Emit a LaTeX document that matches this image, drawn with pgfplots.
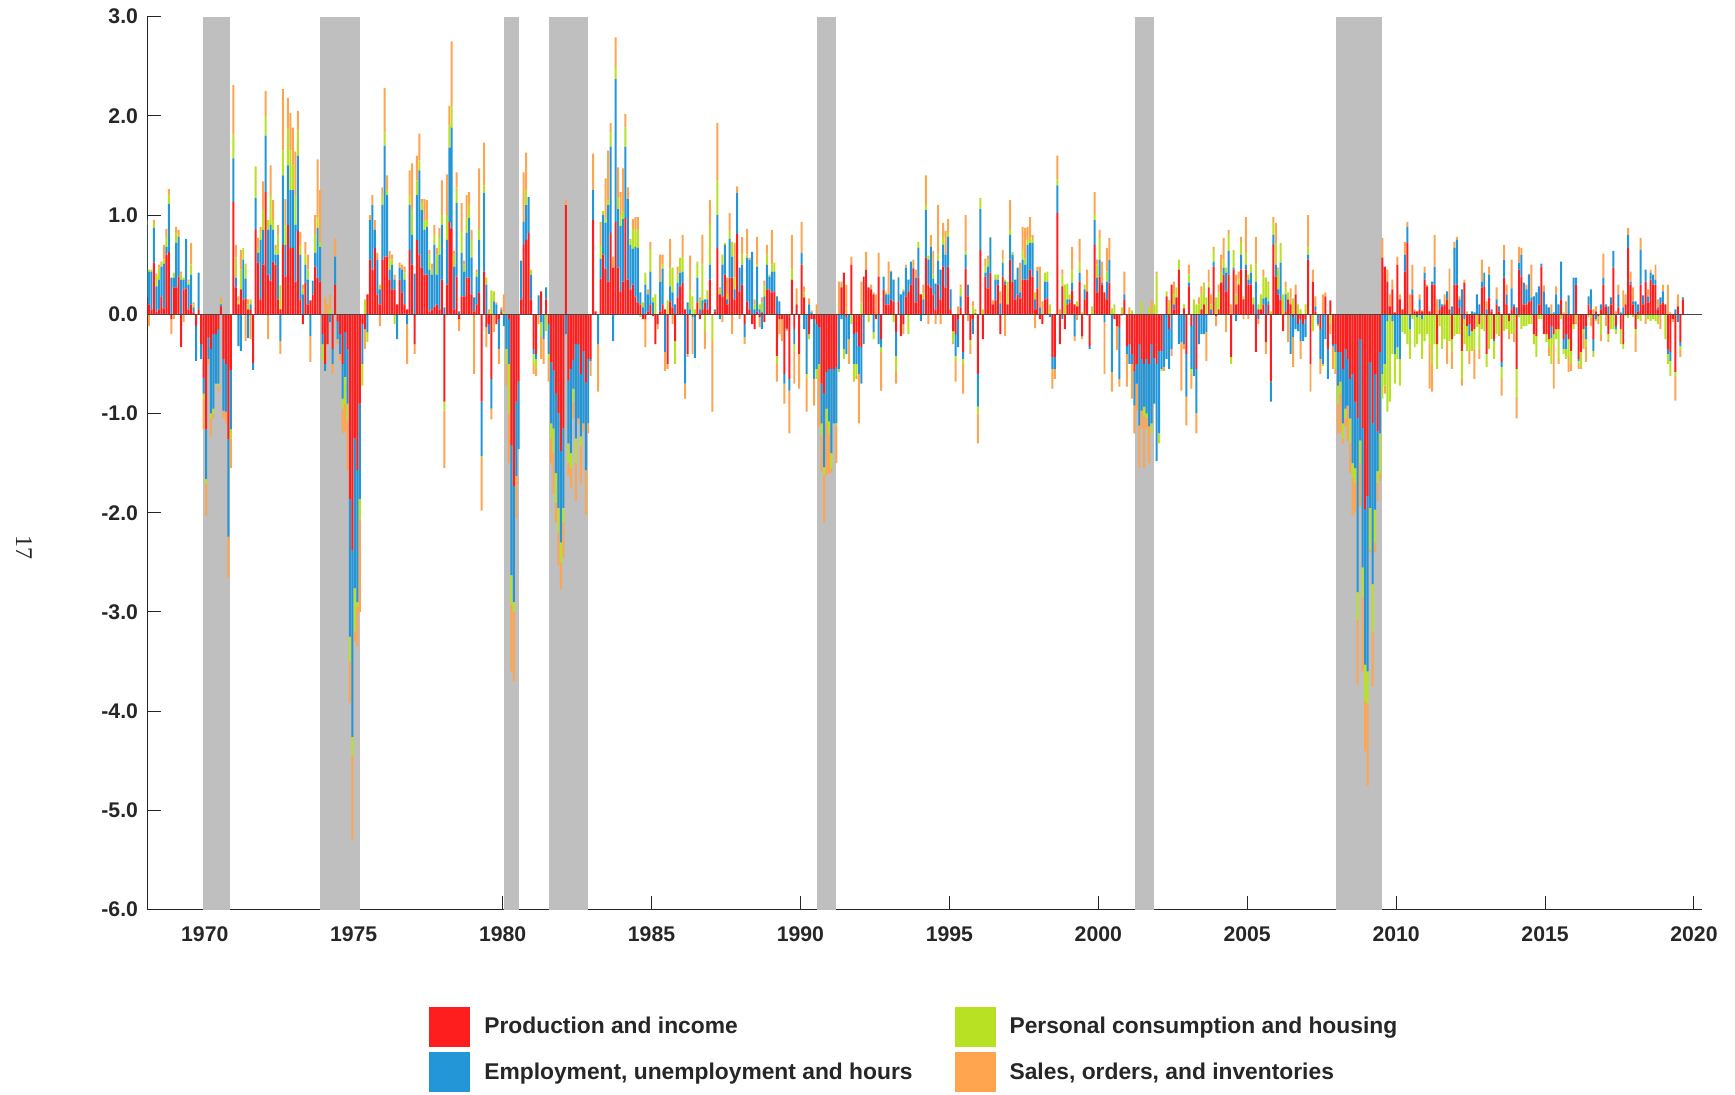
\documentclass[border=0pt]{standalone}
\usepackage{fontspec}
\setmainfont{Liberation Sans}
\newfontfamily\pagefont{Liberation Serif}
\usepackage{pgfplots}
\usepackage{pgfplotstable}
\pgfplotsset{compat=1.18}

\definecolor{cProd}{RGB}{255,30,30}
\definecolor{cEmp}{RGB}{35,150,215}
\definecolor{cCons}{RGB}{185,225,35}
\definecolor{cSales}{RGB}{255,165,80}
\definecolor{cRec}{RGB}{191,191,191}
\definecolor{cAx}{RGB}{38,38,38}

% monthly contributions, Jan 1968 - Aug 2019
% p = production and income, e = employment, c = consumption and housing, s = sales
\pgfplotstableread{
p e c s
0.17 0.73 0.05 0.00
0.10 0.33 0.02 -0.12
0.05 0.38 0.02 0.00
0.52 0.35 0.05 0.03
0.03 0.25 0.10 0.03
0.05 0.30 0.12 0.03
0.18 0.30 0.03 0.02
0.06 0.45 0.04 0.15
0.60 0.08 0.10 0.08
0.63 0.48 0.10 0.05
-0.05 0.37 0.00 -0.15
0.27 0.10 0.05 -0.05
0.27 0.45 0.10 0.06
0.38 0.40 0.00 0.07
-0.33 0.35 0.05 0.03
0.25 0.10 0.02 -0.08
0.26 0.50 0.00 0.00
0.05 0.25 0.03 0.02
0.10 0.30 0.10 0.22
0.02 0.05 0.03 0.02
-0.12 -0.35 0.00 0.00
0.05 0.37 0.00 0.00
-0.30 -0.15 0.00 0.00
-0.64 -0.16 -0.05 -0.31
-1.16 -0.50 -0.05 -0.32
-0.23 -0.22 0.00 -0.05
-0.35 -0.65 -0.05 -0.18
-0.20 -0.75 -0.05 -0.05
-0.20 -0.50 0.00 0.00
-0.15 -0.55 -0.03 -0.05
0.08 0.02 0.02 0.05
-0.45 -0.52 0.00 -0.08
-0.50 -0.48 0.00 -0.12
-1.26 -0.98 0.00 -0.42
-0.56 -0.60 -0.09 -0.30
1.13 0.44 0.24 0.50
0.27 0.10 0.20 0.13
0.10 -0.32 0.03 0.05
0.25 -0.37 0.20 0.20
0.15 0.40 0.12 0.00
0.16 0.20 0.15 -0.27
0.05 -0.24 0.05 0.05
0.05 0.05 0.05 -0.25
-0.49 -0.07 0.00 0.00
0.85 0.32 0.32 0.00
0.52 0.10 0.05 0.10
0.15 0.60 0.08 0.05
0.50 0.35 0.20 0.29
1.23 0.57 0.20 0.25
0.40 0.45 0.10 -0.25
0.34 0.56 0.30 0.30
0.53 0.32 0.10 0.20
0.50 0.10 0.05 0.05
0.15 0.45 0.20 0.10
0.05 -0.27 0.24 -0.13
0.70 0.70 0.25 0.62
0.38 0.32 0.20 0.26
0.90 0.60 0.36 0.32
0.67 0.58 0.40 0.38
0.67 0.58 0.25 0.38
0.33 0.57 0.30 0.44
0.84 0.76 0.25 0.20
0.15 0.45 0.10 0.13
-0.10 0.20 0.05 0.05
0.32 0.18 0.10 0.13
0.10 0.25 0.10 0.15
0.14 -0.22 0.00 -0.26
0.20 0.14 0.00 0.00
0.48 0.14 0.18 0.20
0.37 0.50 0.11 0.58
0.33 0.35 0.05 0.52
-0.20 -0.10 -0.17 0.00
-0.50 -0.07 0.00 0.17
-0.30 0.00 0.00 0.10
0.00 -0.08 0.05 0.15
-0.35 -0.15 0.00 -0.10
0.30 0.28 0.00 0.18
-0.07 -0.18 0.00 -0.05
-0.20 -0.20 0.00 -0.07
-0.50 -0.35 -0.10 -0.25
-0.18 -0.45 -0.27 -0.28
-0.35 -0.55 -0.17 -0.50
-1.86 -1.39 -0.25 -0.42
-2.38 -1.88 -0.19 -0.85
-1.25 -1.51 -0.44 -0.10
-1.57 -1.33 -0.05 -0.40
-0.90 -0.96 -0.21 -0.93
-0.10 -0.40 -0.22 0.00
-0.15 0.00 0.15 -0.20
0.20 -0.18 -0.10 0.00
0.55 0.40 0.00 0.05
0.45 0.65 0.00 0.10
0.67 0.18 0.00 0.10
0.20 0.35 0.00 0.07
0.10 0.15 0.05 -0.12
0.55 0.55 0.10 0.08
0.58 1.12 0.13 0.45
0.58 0.62 0.05 0.15
0.35 0.10 0.10 0.09
0.25 0.25 0.05 0.05
0.25 0.10 -0.10 0.05
0.10 -0.25 0.00 0.00
0.35 0.12 0.00 0.05
0.22 0.23 0.00 0.05
0.10 0.25 0.07 0.06
0.05 -0.10 0.00 -0.40
0.65 0.45 0.10 0.25
0.50 0.30 0.25 0.47
-0.30 0.41 0.00 -0.10
0.75 0.45 0.15 0.25
0.60 0.85 0.10 0.27
0.47 0.58 0.07 0.04
0.40 0.45 0.10 0.21
0.40 0.48 0.07 0.20
0.03 0.42 0.15 0.05
0.05 0.35 0.05 0.06
0.08 0.62 0.10 0.10
0.10 0.30 0.20 0.07
0.05 0.55 0.18 0.09
0.35 0.55 0.10 0.35
-0.88 0.07 -0.09 -0.58
0.30 0.45 0.25 0.41
0.93 0.75 0.22 0.20
0.86 1.02 0.22 0.65
0.05 0.43 0.12 0.04
0.38 0.74 0.16 0.15
-0.05 0.03 0.00 -0.12
0.18 0.44 0.21 0.29
0.18 0.25 0.07 0.04
0.37 0.45 0.16 0.22
0.37 0.60 0.13 0.13
0.20 0.37 0.18 0.10
0.03 0.14 0.00 -0.60
0.10 0.28 0.04 0.03
0.22 0.53 0.10 0.62
-0.88 -0.55 -0.02 -0.53
0.43 0.79 0.08 0.43
-0.13 0.30 0.07 -0.20
-0.10 -0.10 0.00 0.05
-0.65 -0.30 0.24 -0.11
0.00 0.13 0.10 -0.18
-0.10 0.10 0.00 0.02
-0.05 -0.30 0.00 -0.15
0.03 0.02 0.00 0.02
0.00 -0.12 0.02 0.18
0.00 -0.35 -0.15 -0.22
-0.05 -0.45 -0.50 -0.50
-1.32 -1.31 -0.30 -0.67
-1.73 -1.17 -0.10 -0.70
-0.88 -0.75 0.00 -0.42
-0.68 -0.68 0.00 0.00
0.15 0.39 0.00 0.00
0.70 0.23 0.00 0.50
0.75 0.35 0.15 0.38
0.82 0.36 0.00 0.00
0.15 0.25 0.05 0.00
-0.35 -0.05 -0.10 -0.10
-0.40 -0.05 -0.10 -0.07
0.00 0.19 0.00 -0.10
0.23 -0.08 -0.14 -0.23
0.00 -0.25 0.00 -0.25
0.15 0.12 -0.17 0.00
-0.10 -0.30 -0.05 -0.23
-0.48 -0.62 -0.15 -0.25
-0.56 -0.59 -0.25 -0.40
-0.80 -0.80 -0.30 -0.20
-1.00 -0.95 -0.25 -0.33
-1.38 -0.92 -0.20 -0.27
-1.15 -0.80 -0.15 -0.35
1.10 -0.20 0.00 0.05
-0.67 -0.63 -0.20 -0.13
-0.55 -0.85 -0.15 -0.20
-0.46 -0.29 -0.13 -0.17
-0.30 -0.95 -0.25 -0.38
-0.30 -0.75 0.00 -0.05
-0.60 -0.63 -0.10 -0.37
-0.37 -0.73 0.00 -0.08
-0.69 -0.88 0.00 -0.45
-0.45 -0.65 0.00 -0.10
-0.45 -0.02 0.00 -0.15
0.95 0.30 0.00 0.37
0.03 0.00 0.00 0.00
0.00 -0.30 0.00 -0.48
0.36 0.20 0.14 0.23
0.60 0.40 0.04 0.00
0.46 0.46 0.05 0.40
0.33 0.77 0.05 0.50
0.82 0.87 0.14 0.10
0.47 -0.27 0.00 0.11
0.93 1.44 0.12 0.30
0.47 0.59 0.12 0.30
0.23 0.66 0.11 0.23
0.33 0.63 0.08 0.43
0.97 0.72 0.19 0.14
0.35 0.81 0.00 0.12
0.25 0.45 0.05 0.01
0.30 0.36 0.20 0.10
0.18 0.50 0.18 0.12
0.12 0.55 0.18 0.13
0.10 0.12 -0.03 0.00
-0.05 0.07 0.05 0.00
-0.05 0.30 0.12 -0.28
0.03 0.17 0.00 0.05
0.10 0.33 0.23 0.07
-0.02 0.12 0.05 0.00
-0.30 0.00 0.20 0.00
-0.10 0.00 0.00 -0.05
0.03 0.30 0.00 0.27
0.10 0.36 0.04 0.10
0.05 -0.38 0.00 -0.19
-0.50 0.00 0.14 -0.05
0.13 0.15 0.18 0.30
0.07 0.15 0.25 -0.10
-0.27 0.10 -0.23 0.00
0.17 0.15 0.08 0.08
0.28 0.14 0.15 0.00
0.32 0.11 0.14 0.23
0.05 -0.70 0.00 -0.15
-0.40 0.12 0.00 -0.03
0.00 0.05 0.19 0.35
0.00 -0.03 0.18 -0.37
-0.02 -0.42 0.05 0.00
0.12 0.25 0.15 0.01
-0.05 0.05 0.10 0.02
0.05 0.09 0.36 0.30
0.12 0.03 -0.17 -0.18
0.05 0.10 0.09 0.00
0.35 0.15 0.40 0.25
0.00 0.00 -0.27 -0.71
0.03 0.02 0.00 0.00
0.67 0.33 0.35 0.58
0.20 -0.05 0.05 0.02
0.18 0.32 0.10 -0.08
0.40 0.30 0.02 0.00
0.10 0.05 0.05 0.17
0.37 0.39 0.09 0.17
0.37 0.21 0.15 -0.20
0.15 0.10 0.12 0.35
0.81 0.41 0.00 0.07
0.23 0.24 0.00 -0.05
0.30 0.20 0.10 0.18
-0.10 -0.13 0.00 -0.07
0.13 0.44 0.03 0.26
0.05 0.50 0.00 0.02
-0.10 0.63 0.00 0.00
-0.15 0.05 0.05 0.05
0.03 0.45 0.02 0.28
-0.03 0.05 0.05 -0.10
0.02 -0.15 0.10 0.05
-0.08 0.18 0.10 0.06
0.25 0.25 0.10 0.10
0.25 0.13 0.02 0.00
0.22 0.21 0.07 0.35
0.23 0.20 0.09 0.00
-0.42 0.18 -0.08 -0.18
-0.05 0.13 0.00 -0.15
-0.05 0.00 0.00 -0.22
-0.60 -0.10 0.00 -0.20
-0.14 -0.01 0.00 -0.02
-0.65 -0.12 0.00 -0.43
0.35 0.00 0.10 0.35
-0.15 -0.15 -0.08 -0.32
0.10 0.00 0.00 0.16
-0.40 0.00 0.00 -0.35
0.50 0.12 0.00 0.31
0.17 -0.15 0.05 0.06
0.00 -0.60 -0.05 -0.33
-0.20 0.10 -0.05 0.06
-0.05 0.02 0.00 0.02
-0.05 -0.60 0.00 -0.27
-0.10 -0.45 -0.10 0.10
-0.13 -0.37 -0.05 -0.58
-0.70 -0.40 -0.12 -0.36
-0.80 -0.74 -0.08 -0.48
-0.58 -0.37 -0.15 -0.52
-0.55 -0.53 -0.12 -0.40
-0.55 -0.85 -0.15 -0.05
-0.55 -0.55 0.00 0.00
-0.53 -0.57 -0.02 -0.38
0.00 -0.55 -0.03 0.33
0.27 -0.05 0.00 0.06
0.42 -0.35 -0.10 0.00
-0.03 -0.37 0.00 0.30
0.00 -0.25 0.00 -0.25
0.50 0.00 -0.10 0.08
-0.20 -0.30 -0.18 0.00
-0.18 -0.32 -0.12 -0.03
-0.32 -0.28 0.00 -0.50
-0.33 -0.37 0.12 0.21
0.38 -0.30 0.00 0.00
0.45 0.00 0.00 0.18
0.27 0.00 -0.08 0.00
0.25 0.00 0.00 0.05
0.20 -0.18 -0.07 0.02
-0.05 0.00 0.00 0.20
0.38 -0.30 0.00 0.24
-0.25 -0.08 -0.05 -0.39
0.25 0.13 0.00 0.00
0.10 0.10 0.02 0.00
0.10 0.10 0.00 0.33
0.15 0.28 0.00 0.01
0.13 0.22 -0.08 0.00
-0.18 -0.24 -0.15 -0.13
0.13 0.24 0.01 0.00
-0.22 0.20 0.00 0.00
-0.10 0.23 0.02 -0.10
0.18 0.29 0.00 0.03
0.23 0.12 -0.20 0.00
0.30 0.23 0.00 0.00
0.46 0.01 0.00 0.08
0.12 0.25 0.00 0.08
0.37 0.30 0.06 0.00
0.20 -0.07 0.00 0.00
0.00 0.15 0.07 0.08
0.57 0.48 0.05 0.30
0.30 0.25 0.04 -0.10
0.27 0.41 0.00 0.12
0.20 0.16 0.04 0.24
0.05 0.26 0.00 -0.10
0.30 0.24 0.06 0.50
0.15 0.30 0.00 -0.10
0.48 0.22 0.08 0.14
0.27 0.33 0.00 0.24
0.48 0.30 0.05 0.13
0.05 0.20 0.00 0.00
-0.17 0.00 -0.11 -0.02
-0.20 -0.22 -0.05 -0.21
-0.05 -0.28 0.00 0.08
0.07 0.11 0.09 0.03
-0.38 -0.07 -0.05 -0.30
0.46 0.14 0.04 0.36
0.18 0.12 0.00 -0.07
-0.26 0.00 -0.04 -0.10
-0.05 -0.15 0.08 0.05
0.01 0.00 0.02 0.02
-0.60 -0.33 -0.07 -0.30
0.65 0.41 0.11 0.00
-0.25 0.00 0.05 0.00
0.38 0.04 0.06 0.08
0.26 0.22 0.07 0.04
0.42 0.35 0.01 0.00
0.10 0.00 0.00 0.04
0.14 0.21 0.05 0.00
0.30 0.05 0.05 0.00
-0.20 0.11 0.00 0.12
0.38 0.14 0.03 0.10
0.30 0.03 0.02 -0.22
0.10 0.00 0.23 0.00
0.55 0.25 0.05 0.30
0.33 0.27 0.03 0.00
0.15 0.20 0.00 0.00
0.20 0.27 0.00 0.00
0.16 0.06 0.00 0.30
0.35 0.20 0.10 0.23
0.35 0.15 0.06 0.31
0.35 0.35 0.05 0.13
0.45 0.27 0.06 0.20
0.38 0.34 0.03 0.05
0.05 0.10 0.07 -0.14
0.26 0.18 0.00 0.04
-0.05 0.07 0.00 0.41
-0.10 0.00 0.00 0.13
0.15 0.18 0.09 0.00
0.16 0.17 0.10 0.00
0.00 -0.03 0.10 0.00
-0.43 -0.12 0.00 -0.20
-0.43 -0.12 0.00 -0.10
1.02 0.28 0.06 0.24
-0.30 0.00 0.00 0.05
0.28 -0.05 0.12 0.05
-0.15 0.00 0.30 0.00
0.10 0.05 0.16 0.00
0.12 0.03 0.05 0.00
0.24 0.08 0.12 0.24
0.10 -0.22 0.00 -0.05
0.08 0.00 0.05 -0.06
0.33 0.09 0.10 0.24
-0.22 0.00 0.02 -0.03
0.15 0.10 0.05 0.00
0.23 -0.01 0.00 0.22
-0.32 -0.03 0.00 0.00
0.00 0.00 0.08 0.00
0.70 0.25 0.05 0.23
0.22 0.15 0.13 0.05
0.38 0.17 0.22 0.08
0.30 0.02 0.00 0.21
0.22 -0.08 0.00 -0.52
0.15 0.18 0.10 0.24
0.32 0.23 0.00 0.22
0.00 -0.58 0.06 -0.20
-0.05 0.00 0.10 0.00
-0.12 0.00 0.00 -0.24
-0.13 -0.52 0.00 -0.08
-0.01 0.00 0.07 0.00
0.15 0.05 0.00 0.23
-0.32 -0.08 0.00 -0.33
-0.30 -0.20 0.00 0.07
-0.40 -0.10 0.04 -0.35
-0.57 -0.35 0.00 -0.28
-0.50 -0.20 0.00 -0.27
-0.30 -0.82 0.00 -0.43
-0.45 -0.52 0.13 -0.18
-0.50 -0.43 -0.10 -0.52
-0.45 -0.55 -0.05 -0.10
-0.50 -0.63 0.07 -0.37
-0.30 -0.80 -0.10 0.15
-0.44 -0.46 0.10 0.00
-0.50 -0.98 0.40 0.03
-0.37 -0.83 -0.10 0.00
-0.37 -0.18 -0.02 0.00
0.00 -0.53 0.00 -0.04
0.18 -0.45 0.05 0.00
-0.15 -0.40 0.12 0.02
0.30 -0.35 0.00 -0.07
0.05 0.05 0.10 0.13
0.17 0.00 0.10 0.00
0.45 -0.30 0.10 0.00
0.00 -0.28 0.00 -0.49
0.06 -0.30 0.04 -0.05
-0.40 -0.43 0.00 -0.29
0.28 0.04 0.08 0.10
-0.12 -0.43 -0.05 -0.15
0.00 -0.62 0.15 0.00
-0.55 -0.45 0.10 -0.20
0.00 -0.30 0.10 0.07
0.05 -0.20 0.15 0.08
0.10 -0.20 0.20 0.02
0.00 -0.18 0.17 -0.29
0.27 0.00 0.05 0.13
0.00 0.05 0.05 0.10
0.48 0.05 0.12 0.03
-0.02 0.00 0.17 -0.10
0.05 0.00 0.17 0.08
0.32 0.00 0.10 0.18
0.40 0.07 0.08 0.22
0.23 0.19 0.05 -0.18
0.40 0.24 0.16 0.05
-0.43 0.00 -0.07 0.10
0.45 0.02 0.18 0.00
0.10 -0.07 0.10 0.20
0.30 0.00 0.05 0.08
0.45 0.15 0.12 0.06
0.15 0.00 0.03 -0.05
0.45 0.05 0.12 0.36
0.30 0.05 0.05 -0.05
0.30 0.12 0.06 0.02
0.10 0.00 0.07 0.00
-0.38 0.33 0.17 0.28
0.05 -0.05 0.05 -0.05
0.05 0.00 0.15 0.00
0.10 0.06 0.22 0.07
-0.28 0.17 0.20 -0.12
0.10 0.03 0.17 0.03
-0.68 -0.20 0.03 0.00
0.70 0.10 0.12 0.06
0.38 0.12 0.22 0.20
0.20 0.05 0.20 0.02
0.15 0.37 0.20 0.00
-0.17 0.00 0.20 0.00
0.03 0.17 0.07 0.06
0.15 0.00 0.07 -0.28
0.10 -0.40 0.00 0.16
-0.03 -0.20 0.16 -0.30
0.20 -0.15 0.00 0.10
-0.10 -0.07 0.10 0.00
-0.05 -0.22 0.05 -0.18
-0.10 -0.17 0.00 0.00
-0.05 -0.18 0.10 0.00
0.55 0.05 0.08 0.32
-0.50 0.00 0.00 -0.28
0.33 0.00 -0.17 0.12
0.03 0.05 0.00 0.10
0.00 -0.10 -0.02 0.00
-0.15 -0.30 0.00 -0.15
0.00 -0.50 -0.02 0.20
0.18 -0.25 0.00 0.04
-0.35 -0.30 0.00 0.00
0.14 0.00 -0.10 -0.10
-0.30 -0.02 0.00 -0.23
-0.30 -0.08 -0.17 -0.05
-0.38 -0.34 -0.18 -0.30
-0.38 -0.30 -0.12 -0.40
-0.55 -0.55 -0.15 -0.05
-0.35 -0.60 -0.10 -0.08
-0.45 -0.47 0.00 -0.36
-0.65 -0.40 -0.25 -0.30
-0.60 -0.90 -0.15 -0.38
-0.88 -0.67 -0.15 -0.30
-1.05 -1.75 -0.28 -0.65
-0.25 -1.02 -0.23 -0.43
-1.15 -1.40 -0.30 -0.75
-1.97 -1.56 -0.37 -0.50
-1.83 -1.77 -0.33 -0.82
-0.48 -1.47 -0.42 -0.03
-1.10 -1.62 -0.48 -0.55
-0.60 -1.37 -0.33 -0.10
-1.18 -0.40 -0.12 -0.18
-0.38 -0.82 -0.40 -0.08
0.57 -0.60 -0.25 0.20
0.48 -0.50 -0.22 -0.08
0.33 -0.07 -0.91 0.12
0.08 0.00 -0.88 0.12
0.25 -0.07 -0.33 0.10
0.02 -0.40 -0.30 0.00
0.50 -0.33 -0.12 0.08
0.15 -0.45 -0.27 0.05
0.05 0.00 -0.18 0.00
0.43 0.17 -0.20 0.13
0.72 0.16 -0.30 0.05
0.00 -0.15 -0.30 0.20
0.20 0.05 -0.05 0.25
0.03 0.00 -0.33 0.02
0.03 -0.03 -0.27 0.00
0.05 0.10 -0.20 0.05
0.03 -0.05 -0.40 0.01
0.35 0.07 -0.27 0.06
0.28 0.00 -0.20 0.02
0.03 0.00 -0.30 -0.45
0.30 0.03 -0.50 -0.28
0.30 0.18 -0.30 0.32
-0.30 0.00 -0.25 0.15
0.05 0.10 -0.12 0.00
0.08 0.02 -0.35 0.00
0.10 0.00 -0.25 0.10
0.15 0.08 -0.28 -0.22
0.05 0.00 -0.27 0.41
-0.25 0.08 -0.13 -0.17
0.30 0.37 -0.22 0.06
0.30 0.45 -0.20 0.03
0.07 0.08 -0.20 0.03
-0.37 0.25 -0.28 -0.07
0.32 -0.05 -0.25 0.03
-0.12 0.00 -0.25 0.03
-0.10 -0.12 -0.15 -0.13
-0.17 0.03 -0.20 0.00
-0.15 0.02 -0.20 -0.30
0.00 0.20 -0.13 0.00
-0.10 0.10 -0.25 -0.10
0.27 0.06 -0.15 0.22
0.28 0.14 -0.17 0.00
-0.40 0.05 -0.13 0.08
0.17 0.23 -0.35 0.08
0.03 0.02 -0.25 0.00
-0.25 -0.02 -0.18 0.00
0.10 0.05 -0.20 0.12
0.03 0.05 -0.20 -0.02
-0.48 -0.05 -0.12 -0.17
0.37 0.18 -0.17 0.15
0.10 0.10 -0.15 0.10
-0.07 0.01 -0.10 -0.08
0.05 0.21 -0.20 0.29
0.08 0.02 -0.20 -0.08
-0.55 0.07 -0.28 -0.22
0.45 0.07 -0.03 0.16
0.38 0.22 -0.15 0.07
0.10 0.22 -0.12 0.00
0.10 0.15 -0.12 0.05
0.13 0.27 -0.10 0.01
0.14 0.03 -0.10 0.33
-0.20 0.18 -0.10 0.00
-0.22 0.22 -0.21 0.00
0.10 0.18 -0.05 0.00
0.48 0.03 -0.05 0.00
-0.20 0.23 0.00 0.06
-0.20 0.10 -0.08 0.00
-0.25 0.07 -0.08 -0.09
-0.12 -0.12 -0.26 0.10
-0.20 0.02 -0.10 -0.45
-0.15 0.20 -0.10 0.08
-0.15 0.10 -0.30 -0.05
0.15 0.38 -0.05 0.00
-0.25 -0.10 -0.05 0.02
-0.20 -0.15 -0.10 0.13
-0.25 0.19 -0.18 -0.15
-0.37 0.00 -0.13 -0.07
-0.10 0.37 -0.05 0.00
0.30 0.07 -0.08 -0.02
-0.45 -0.02 -0.03 -0.05
-0.38 0.00 -0.15 -0.02
-0.15 0.00 -0.05 -0.15
-0.12 -0.13 -0.08 -0.15
0.10 0.08 0.00 -0.03
0.05 0.20 -0.04 -0.08
-0.25 -0.12 -0.06 0.05
0.03 -0.05 -0.02 0.05
-0.02 0.00 0.00 -0.08
0.05 0.05 -0.20 -0.07
0.30 0.07 0.00 0.24
0.08 0.02 0.00 -0.12
-0.20 0.08 -0.06 -0.02
0.10 0.07 -0.15 0.00
0.47 0.17 -0.15 0.00
-0.12 -0.03 -0.05 0.03
0.07 0.13 0.00 0.10
-0.15 0.02 -0.15 0.00
-0.30 0.07 -0.05 0.17
0.10 0.00 -0.02 0.10
0.67 0.13 -0.04 0.07
0.30 0.03 0.00 0.10
0.10 0.03 -0.03 0.14
-0.15 0.13 -0.05 -0.18
0.03 0.07 -0.05 0.00
0.30 0.35 -0.07 0.12
0.10 0.09 0.00 0.00
0.33 0.12 0.00 -0.10
0.12 0.06 -0.05 0.07
0.35 0.07 -0.07 0.03
0.30 0.10 -0.05 0.00
0.30 0.05 -0.07 0.15
0.05 0.02 -0.10 0.08
0.10 0.07 0.00 -0.15
0.12 0.11 0.00 0.07
0.10 0.00 -0.25 0.00
-0.35 -0.05 -0.10 0.30
-0.38 -0.09 -0.15 0.02
-0.05 0.00 0.00 -0.03
-0.58 0.05 -0.04 -0.25
0.08 -0.08 0.00 0.12
-0.28 -0.04 -0.04 -0.07
0.15 0.02 0.00 0.00
}\cfnai

\pgfplotsset{
  base/.style={
    at={(73.5pt,92.2pt)}, anchor=south west,
    scale only axis, width=777.5pt, height=446.5pt,
    xmin=1968.06, xmax=2020.27, ymin=-6, ymax=3,
  },
  hidden/.style={base, axis lines=none, xtick=\empty, ytick=\empty},
  sq/.style={legend image code/.code={\fill[##1] (0pt,-10pt) rectangle (20.5pt,10pt);}},
}

\begin{document}
\begin{tikzpicture}
\path[use as bounding box] (0,0) rectangle (867.5pt,547pt);

% frame, ticks and recession shading
\begin{axis}[base,
  axis x line*=bottom, axis y line*=left,
  axis line style={-, cAx, line width=0.5pt},
  tick align=inside, major tick length=7pt,
  tick style={cAx, line width=0.5pt},
  xtick={1970,1975,...,2020},
  xticklabels={1970,1975,1980,1985,1990,1995,2000,2005,2010,2015,2020},
  ytick={-6,-5,...,3},
  yticklabels={-6.0,-5.0,-4.0,-3.0,-2.0,-1.0,0.0,1.0,2.0,3.0},
  ticklabel style={font=\bfseries\fontsize{10.6}{12}\selectfont, text=cAx},
  xticklabel style={yshift=-5pt},
  yticklabel style={xshift=-1pt},
]
\addplot[fill=cRec, draw=none] coordinates {(1969.94,-6) (1969.94,3) (1970.86,3) (1970.86,-6)} --cycle;
\addplot[fill=cRec, draw=none] coordinates {(1973.87,-6) (1973.87,3) (1975.20,3) (1975.20,-6)} --cycle;
\addplot[fill=cRec, draw=none] coordinates {(1980.05,-6) (1980.05,3) (1980.54,3) (1980.54,-6)} --cycle;
\addplot[fill=cRec, draw=none] coordinates {(1981.55,-6) (1981.55,3) (1982.87,3) (1982.87,-6)} --cycle;
\addplot[fill=cRec, draw=none] coordinates {(1990.55,-6) (1990.55,3) (1991.20,3) (1991.20,-6)} --cycle;
\addplot[fill=cRec, draw=none] coordinates {(2001.22,-6) (2001.22,3) (2001.88,3) (2001.88,-6)} --cycle;
\addplot[fill=cRec, draw=none] coordinates {(2007.97,-6) (2007.97,3) (2009.53,3) (2009.53,-6)} --cycle;
\end{axis}

% positive parts, stacked upwards
\begin{axis}[hidden, ybar stacked, bar width=0.0667,
  legend columns=2, transpose legend, legend cell align=left,
  legend style={at={(0.1816,-0.1091)}, anchor=north west, draw=none, fill=none,
    inner sep=0pt, outer sep=0pt, row sep=2.7pt,
    font=\bfseries\fontsize{11.4}{13}\selectfont, text=cAx,
    nodes={inner sep=0pt},
    /tikz/every odd column/.append style={column sep=7pt},
    /tikz/every even column/.append style={column sep=21pt}},
]
\addplot[sq, fill=cProd, draw=none] table[x expr=1968+(\coordindex+0.5)/12, y expr={max(\thisrow{p},0)}] {\cfnai};
\addlegendentry{Production and income}
\addplot[sq, fill=cEmp, draw=none] table[x expr=1968+(\coordindex+0.5)/12, y expr={max(\thisrow{e},0)}] {\cfnai};
\addlegendentry{Employment, unemployment and hours}
\addplot[sq, fill=cCons, draw=none] table[x expr=1968+(\coordindex+0.5)/12, y expr={max(\thisrow{c},0)}] {\cfnai};
\addlegendentry{Personal consumption and housing}
\addplot[sq, fill=cSales, draw=none] table[x expr=1968+(\coordindex+0.5)/12, y expr={max(\thisrow{s},0)}] {\cfnai};
\addlegendentry{Sales, orders, and inventories}
\end{axis}

% negative parts, stacked downwards
\begin{axis}[hidden, ybar stacked, bar width=0.0667]
\addplot[fill=cProd, draw=none] table[x expr=1968+(\coordindex+0.5)/12, y expr={min(\thisrow{p},0)}] {\cfnai};
\addplot[fill=cEmp, draw=none] table[x expr=1968+(\coordindex+0.5)/12, y expr={min(\thisrow{e},0)}] {\cfnai};
\addplot[fill=cCons, draw=none] table[x expr=1968+(\coordindex+0.5)/12, y expr={min(\thisrow{c},0)}] {\cfnai};
\addplot[fill=cSales, draw=none] table[x expr=1968+(\coordindex+0.5)/12, y expr={min(\thisrow{s},0)}] {\cfnai};
\end{axis}

% zero line
\begin{axis}[hidden]
\addplot[cAx!85, line width=0.6pt] coordinates {(1968.06,0) (2020.27,0)};
\end{axis}

\node[rotate=-90, font=\pagefont\fontsize{12}{14}\selectfont, text=cAx] at (12pt,273pt) {17};
\end{tikzpicture}
\end{document}
